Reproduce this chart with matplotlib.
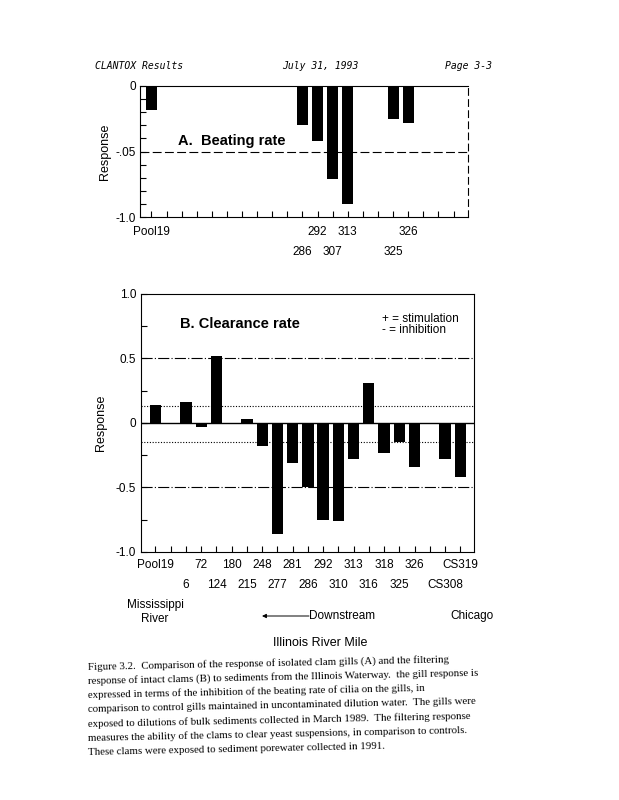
import numpy as np
import matplotlib.pyplot as plt

plt.rcParams['font.family'] = ['Liberation Sans', 'DejaVu Sans']

nan = np.nan

# river mile slots (blank = empty slot on the axis)
mile_a = ['Pool19', '', '', '', '', '', '', '', '', '', '286', '292', '307', '313',
          '', '', '325', '326', '', '', '']
beating = [-0.18, nan, nan, nan, nan, nan, nan, nan, nan, nan, -0.30, -0.42, -0.71, -0.90,
           nan, nan, -0.25, -0.28, nan, nan, nan]

mile_b = ['Pool19', '', '6', '72', '124', '180', '215', '248', '277', '281', '286', '292',
          '310', '313', '316', '318', '325', '326', '', 'CS308', 'CS319']
clearance = [0.14, nan, 0.16, -0.03, 0.52, nan, 0.03, -0.18, -0.86, -0.31, -0.50, -0.75,
             -0.76, -0.28, 0.31, -0.23, -0.15, -0.34, nan, -0.28, -0.42]

ref_a = [-0.5]
ref_b_solid = [0.5, -0.5]
ref_b_dotted = [0.13, -0.15]

caption = [
    "Figure 3.2.  Comparison of the response of isolated clam gills (A) and the filtering",
    "response of intact clams (B) to sediments from the Illinois Waterway.  the gill response is",
    "expressed in terms of the inhibition of the beating rate of cilia on the gills, in",
    "comparison to control gills maintained in uncontaminated dilution water.  The gills were",
    "exposed to dilutions of bulk sediments collected in March 1989.  The filtering response",
    "measures the ability of the clams to clear yeast suspensions, in comparison to controls.",
    "These clams were exposed to sediment porewater collected in 1991.",
]

W, H = 619, 800
fig = plt.figure(figsize=(W / 100, H / 100), dpi=100)


def fx(px):
    return px / W


def fy(py):
    return 1 - py / H


def put_labels(ax, names, y1, y2):
    k = 0
    for i, name in enumerate(names):
        if name == '':
            continue
        off = y1 if k % 2 == 0 else y2
        ax.annotate(name, xy=(i, 0), xycoords=('data', 'axes fraction'),
                    xytext=(0, off), textcoords='offset points',
                    ha='center', va='center', fontsize=8.5)
        k += 1


# ---- A. Beating rate
axA = fig.add_axes([fx(140), fy(217), fx(468) - fx(140), fy(86) - fy(217)])
xa = np.arange(len(mile_a))
axA.bar(xa, beating, width=0.74, color='black')
for r in ref_a:
    axA.axhline(r, color='black', lw=0.8, ls=(0, (8, 3)))
axA.set_xlim(-0.76, 20.96)
axA.set_ylim(-1.0, 0)
axA.set_yticks([0, -0.5, -1.0])
axA.set_yticklabels(['0', '-.05', '-1.0'], fontsize=8.5)
axA.set_yticks(np.arange(-1.0, 0.01, 0.1), minor=True)
axA.set_xticks(xa)
axA.set_xticklabels([])
axA.tick_params(axis='both', which='both', direction='in', length=4, width=0.8)
axA.tick_params(axis='y', which='major', pad=3)
axA.spines['right'].set_linestyle((0, (6, 4)))
for s in axA.spines.values():
    s.set_linewidth(0.8)
axA.set_ylabel('Response', fontsize=9, labelpad=3)
axA.text(0.115, 0.58, 'A.  Beating rate', transform=axA.transAxes,
         fontsize=10.5, fontweight='bold', va='center')
put_labels(axA, mile_a, -11, -25)

# ---- B. Clearance rate
axB = fig.add_axes([fx(141), fy(552), fx(474) - fx(141), fy(294) - fy(552)])
xb = np.arange(len(mile_b))
axB.bar(xb, clearance, width=0.74, color='black')
axB.axhline(0, color='black', lw=1.0)
for r in ref_b_solid:
    axB.axhline(r, color='black', lw=0.8, ls=(0, (10, 2, 1, 2)))
for r in ref_b_dotted:
    axB.axhline(r, color='black', lw=0.8, ls=(0, (1, 1.5)))
axB.set_xlim(-0.95, 20.9)
axB.set_ylim(-1.0, 1.0)
axB.set_yticks([1.0, 0.5, 0, -0.5, -1.0])
axB.set_yticklabels(['1.0', '0.5', '0', '-0.5', '-1.0'], fontsize=8.5)
axB.set_yticks(np.arange(-1.0, 1.01, 0.25), minor=True)
axB.set_xticks(xb)
axB.set_xticklabels([])
axB.tick_params(axis='both', which='both', direction='in', length=4, width=0.8)
for s in axB.spines.values():
    s.set_linewidth(0.8)
axB.set_ylabel('Response', fontsize=9, labelpad=6)
axB.text(0.118, 0.885, 'B. Clearance rate', transform=axB.transAxes,
         fontsize=10.5, fontweight='bold', va='center')
axB.text(0.723, 0.905, '+ = stimulation', transform=axB.transAxes, fontsize=8.5, va='center')
axB.text(0.723, 0.862, '- = inhibition', transform=axB.transAxes, fontsize=8.5, va='center')
put_labels(axB, mile_b, -9.5, -23.5)

# ---- page furniture
mono = dict(family='DejaVu Sans Mono', style='italic', fontsize=7, va='center')
fig.text(fx(95), fy(66), 'CLANTOX Results', **mono)
fig.text(fx(282), fy(66), 'July 31, 1993', **mono)
fig.text(fx(445), fy(66), 'Page 3-3', **mono)

fig.text(fx(155), fy(612), 'Mississippi\nRiver', ha='center', va='center',
         multialignment='center', fontsize=8.5, linespacing=1.15)
fig.text(fx(309), fy(616), 'Downstream', ha='left', va='center', fontsize=8.5)
axB.annotate('', xy=(fx(262), fy(616)), xytext=(fx(309), fy(616)),
             xycoords='figure fraction', textcoords='figure fraction',
             annotation_clip=False,
             arrowprops=dict(arrowstyle='-|>', lw=0.7, color='black',
                             mutation_scale=6, shrinkA=0, shrinkB=0))
fig.text(fx(450), fy(616), 'Chicago', ha='left', va='center', fontsize=8.5)
fig.text(fx(320), fy(643), 'Illinois River Mile', ha='center', va='center', fontsize=9)

for i, line in enumerate(caption):
    fig.text(fx(88), fy(667 + 14.3 * i), line, family='Liberation Serif',
             fontsize=7.8, va='center', rotation=1.2, rotation_mode='anchor')

fig.savefig('out.png', dpi=100)
